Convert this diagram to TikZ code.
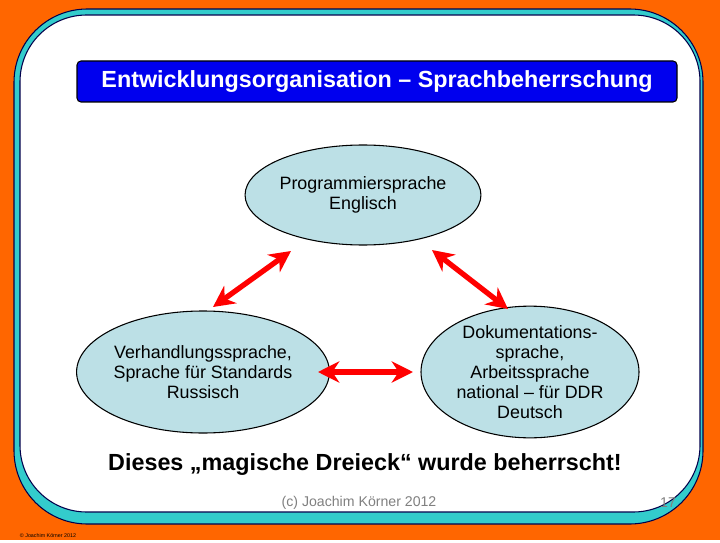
\documentclass[tikz,border=0pt]{standalone}
\usepackage{fontspec}
\setmainfont{Liberation Sans}
\usetikzlibrary{arrows.meta,shapes.geometric}
\definecolor{bgorange}{HTML}{FF6600}
\definecolor{panelteal}{HTML}{33CCCC}
\definecolor{titleblue}{HTML}{0000EE}
\definecolor{bubble}{HTML}{BCE0E6}
\tikzset{
  bubble/.style={ellipse,draw=black,fill=bubble,font=\fontsize{13.4}{15}\selectfont,align=center,inner sep=0pt},
  link/.style={draw=red,line width=4pt,{Stealth[length=16pt,width=16pt]}-{Stealth[length=16pt,width=16pt]}}
}
\begin{document}
\begin{tikzpicture}[x=0.75pt,y=-0.75pt,thick]
    \fill[bgorange] (0,0) rectangle (720,540);% background
    \filldraw[fill=panelteal,draw=black!70!blue,rounded corners=55pt] (14,9) rectangle (703,524);
    \filldraw[fill=white,draw=black!70!blue,rounded corners=50pt] (20,15) rectangle (700,512);
    \filldraw[fill=titleblue,draw=black,rounded corners=3pt] (77,61) rectangle (677,102);% title box
    \node[text=white,font=\fontsize{17.5}{20}\selectfont\bfseries] (title) at (377,82) {Entwicklungsorganisation -- Sprachbeherrschung};

    \node[bubble,minimum width=157.5pt,minimum height=75pt] (top) at (363,195) {Programmiersprache\\Englisch};
    \node[bubble,minimum width=159pt,minimum height=91.5pt] (left) at (203,372) {Verhandlungssprache,\\Sprache für Standards\\Russisch};
    \node[bubble,minimum width=163.5pt,minimum height=91.5pt] (right) at (530,372) {Dokumentations-\\sprache,\\Arbeitssprache\\national -- für DDR\\Deutsch};

    % Arrows
    \coordinate (l1) at (213,307);
    \coordinate (t1) at (291,251);
    \coordinate (t2) at (432,250);
    \coordinate (r1) at (508,309);
    \coordinate (l2) at (318,372);
    \coordinate (r2) at (413,372);
    \draw[link] (l1) -- (t1);
    \draw[link] (t2) -- (r1);
    \draw[link] (l2) -- (r2);

    \node[font=\fontsize{17.5}{20}\selectfont\bfseries] (claim) at (365,465) {Dieses „magische Dreieck“ wurde beherrscht!};
    \node[text=gray,font=\fontsize{10.6}{12}\selectfont] (foot) at (359,503) {(c) Joachim Körner 2012};
    \node[text=gray,font=\fontsize{10.6}{12}\selectfont] (page) at (668,503) {17};
    \node[text=black,font=\fontsize{4}{5}\selectfont] (copy) at (48,536) {© Joachim Körner 2012};
\end{tikzpicture}
\end{document}
